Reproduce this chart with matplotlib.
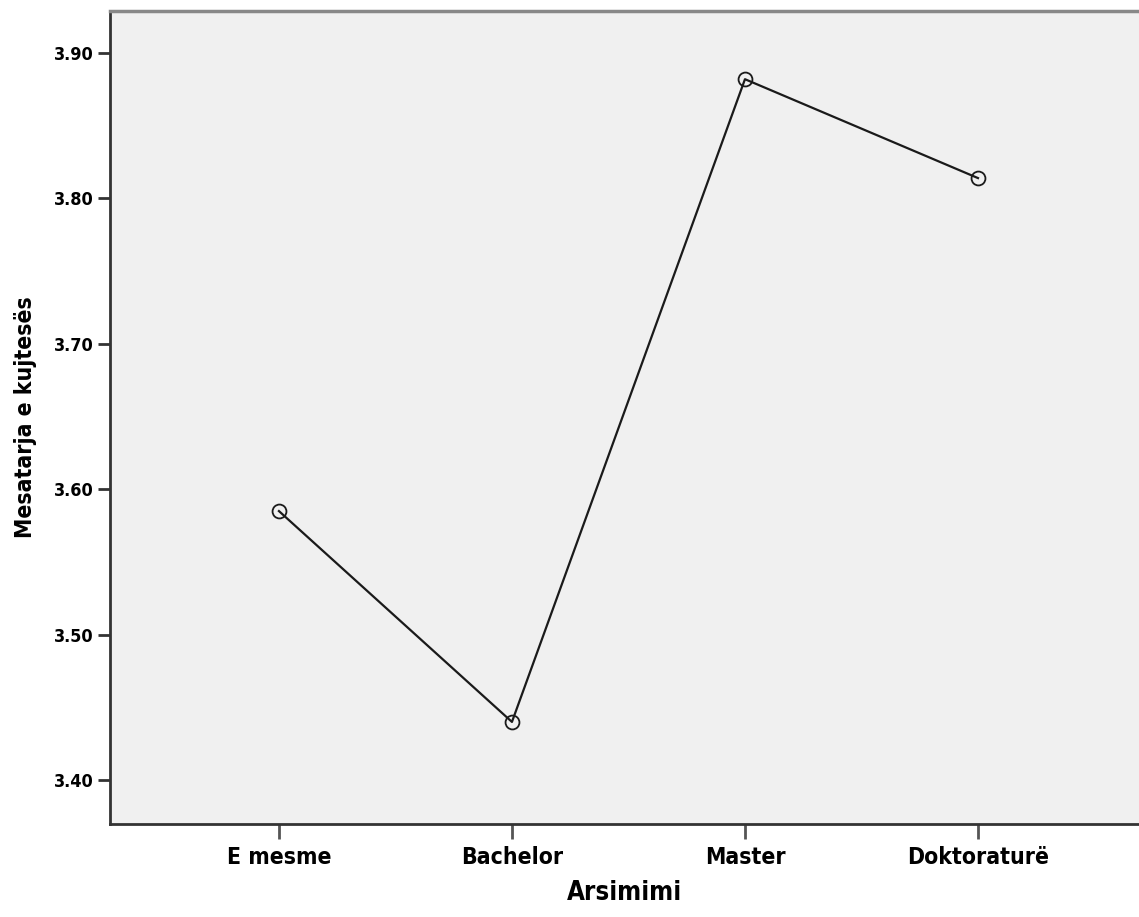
import matplotlib.pyplot as plt
from matplotlib import font_manager

categories = ["E mesme", "Bachelor", "Master", "Doktoraturë"]
means = [3.585, 3.440, 3.882, 3.814]
yticks = [3.40, 3.50, 3.60, 3.70, 3.80, 3.90]

# look for a narrow bold face (SPSS uses Arial Narrow-ish text)
narrow = None
for f in font_manager.fontManager.ttflist:
    n = f.fname.lower()
    if ("narrow" in n or "condensed" in n) and "bold" in n and "oblique" not in n and "italic" not in n:
        narrow = f.fname
        break

plt.rcParams["font.family"] = ["Liberation Sans", "DejaVu Sans"]
if narrow:
    fp = font_manager.FontProperties(fname=narrow)
else:
    fp = font_manager.FontProperties(family="Liberation Sans", weight="bold")

fig = plt.figure(figsize=(11.39, 9.17), dpi=100)
ax = fig.add_axes([110 / 1139, 1 - 824 / 917, 1 - 110 / 1139, (824 - 11) / 917])
ax.set_facecolor("#f0f0f0")

x = list(range(len(categories)))
ax.plot(x, means, color="#1a1a1a", lw=1.6, marker="o", ms=10,
        mfc="none", mec="#1a1a1a", mew=1.3)

ax.set_xlim(-0.725, 3.691)
ax.set_ylim(3.3698, 3.9289)
ax.set_xticks(x)
ax.set_xticklabels(categories, fontproperties=fp, fontsize=16.5)
ax.set_yticks(yticks)
ax.set_yticklabels([f"{v:.2f}" for v in yticks], fontproperties=fp, fontsize=13)
ax.tick_params(axis="y", length=9, width=2, color="#333333", pad=3)
ax.tick_params(axis="x", length=11, width=2, color="#555555", pad=5)

for s in ["left", "bottom"]:
    ax.spines[s].set_color("#333333")
    ax.spines[s].set_linewidth(2)
ax.spines["top"].set_color("#888888")
ax.spines["top"].set_linewidth(2.5)
ax.spines["right"].set_visible(False)

ax.set_xlabel("Arsimimi", fontproperties=fp, fontsize=18.5, labelpad=8)
ax.set_ylabel("Mesatarja e kujtesës", fontproperties=fp, fontsize=16.5, labelpad=12)

fig.savefig("out.png", dpi=100)
